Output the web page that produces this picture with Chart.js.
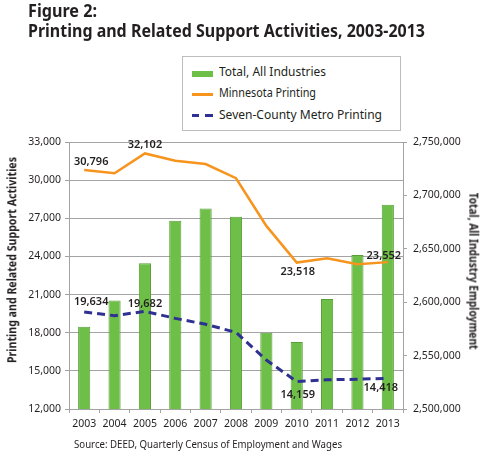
<!DOCTYPE html>
<html>
<head>
<meta charset="utf-8">
<script src="https://cdn.jsdelivr.net/npm/chart.js@4"></script>
<style>
html,body{margin:0;padding:0;background:#fff;}
#wrap{position:relative;width:481px;height:452px;overflow:hidden;font-family:"Noto Sans",sans-serif;color:#231f20;}
#cv{position:absolute;left:0;top:0;}
.t{position:absolute;white-space:nowrap;line-height:1;transform-origin:0 0;}
.r{position:absolute;white-space:nowrap;line-height:1;font-weight:700;}
#legend{position:absolute;left:182px;top:56px;width:217px;height:73px;border:1px solid #bdbdbd;background:#fff;}
.sw{position:absolute;}
</style>
</head>
<body>
<div id="wrap">
  <canvas id="cv" width="481" height="452"></canvas>
  <div class="t" id="title1" style="left:28px;font-weight:700;font-size:17px;">Figure 2:</div>
  <div class="t" id="title2" style="left:28px;font-weight:700;font-size:17px;">Printing and Related Support Activities, 2003-2013</div>
  <div id="legend"></div>
  <div class="sw" style="left:192px;top:71px;width:21px;height:6px;background:#6dbf47;"></div>
  <div class="sw" style="left:192px;top:93px;width:21px;height:2.5px;background:#f7941e;"></div>
  <div class="sw" style="left:192px;top:114px;width:7px;height:3px;background:#2e3192;"></div>
  <div class="sw" style="left:205px;top:114px;width:8px;height:3px;background:#2e3192;"></div>
  <div class="t" id="lg1" style="left:219px;font-size:12.5px;">Total, All Industries</div>
  <div class="t" id="lg2" style="left:219px;font-size:12.5px;">Minnesota Printing</div>
  <div class="t" id="lg3" style="left:219px;font-size:12.5px;">Seven-County Metro Printing</div>
  <div class="r" id="ytitle" style="font-size:12px;">Printing and Related Support Activities</div>
  <div class="r" id="y1title" style="font-size:12px;">Total, All Industry Employment</div>
  <div class="t" id="source" style="left:74px;font-size:11.2px;">Source: DEED, Quarterly Census of Employment and Wages</div>
</div>
<script>
// ---- data ----
const years = ['2003','2004','2005','2006','2007','2008','2009','2010','2011','2012','2013'];
const totalAllIndustries = [2577000, 2601700, 2636500, 2676300, 2687800, 2680000, 2571500, 2562800, 2602900, 2644300, 2691200];
const minnesotaPrinting = [30796, 30540, 32102, 31530, 31270, 30150, 26400, 23518, 23850, 23380, 23552];
const metroPrinting = [19634, 19340, 19682, 19130, 18660, 18030, 15850, 14159, 14300, 14340, 14418];
const labeledPoints = [0, 2, 7, 10];
const leftAxisRange = [12000, 33000, 3000];
const rightAxisRange = [2500000, 2750000, 50000];

// ---- label placement (style, not data) ----
const labelOffsets = {
  1: {0:[7,-8], 2:[0,-9], 7:[1,9], 10:[-4,-6]},
  2: {0:[7,-10], 2:[0,-7], 7:[1,13], 10:[-7,10]}
};

const FONT = 'Noto Sans';
const TXT = '#231f20';
const GRID = '#a3a3a3';
Chart.defaults.font.family = FONT;

const dataLabels = {
  id: 'dataLabels',
  afterDatasetsDraw(chart) {
    const ctx = chart.ctx;
    ctx.save();
    ctx.font = '600 11px "' + FONT + '"';
    ctx.fillStyle = TXT;
    ctx.textAlign = 'center';
    ctx.textBaseline = 'middle';
    [1, 2].forEach(di => {
      const meta = chart.getDatasetMeta(di);
      const ds = chart.data.datasets[di];
      labeledPoints.forEach(i => {
        const p = meta.data[i];
        const off = labelOffsets[di][i];
        ctx.fillText(ds.data[i].toLocaleString('en-US'), p.x + off[0], p.y + off[1]);
      });
    });
    ctx.restore();
  }
};

new Chart(document.getElementById('cv'), {
  type: 'bar',
  data: {
    labels: years,
    datasets: [
      {
        type: 'bar', label: 'Total, All Industries', data: totalAllIndustries, yAxisID: 'y1',
        backgroundColor: '#6dbf47', borderColor: '#5a9e3a', borderWidth: 1,
        barPercentage: 0.4, categoryPercentage: 1.0, order: 3
      },
      {
        type: 'line', label: 'Minnesota Printing', data: minnesotaPrinting, yAxisID: 'y',
        borderColor: '#f7941e', borderWidth: 2.5, pointRadius: 0, tension: 0, fill: false, order: 1
      },
      {
        type: 'line', label: 'Seven-County Metro Printing', data: metroPrinting, yAxisID: 'y',
        borderColor: '#2e3192', borderWidth: 3, borderDash: [8, 5], pointRadius: 0, tension: 0, fill: false, order: 0
      }
    ]
  },
  options: {
    responsive: false,
    animation: false,
    events: [],
    layout: { padding: { top: 142, left: 0, right: 0, bottom: 0 } },
    plugins: { legend: { display: false }, tooltip: { enabled: false }, title: { display: false } },
    scales: {
      x: {
        offset: true,
        grid: { display: true, drawOnChartArea: false, offset: true, tickLength: 4, color: GRID },
        border: { color: GRID },
        ticks: { font: { size: 10.5 }, color: TXT, padding: 5, maxRotation: 0, autoSkip: false },
        afterFit: s => { s.height = 43; }
      },
      y: {
        position: 'left',
        min: leftAxisRange[0], max: leftAxisRange[1],
        ticks: { stepSize: leftAxisRange[2], font: { size: 10.5 }, color: TXT, padding: 4,
                 callback: v => v.toLocaleString('en-US') },
        grid: { color: GRID, tickLength: 4 },
        border: { color: GRID },
        afterFit: s => { s.width = 69; }
      },
      y1: {
        position: 'right',
        min: rightAxisRange[0], max: rightAxisRange[1],
        ticks: { stepSize: rightAxisRange[2], font: { size: 10.5 }, color: TXT, padding: 6,
                 callback: v => v.toLocaleString('en-US') },
        grid: { drawOnChartArea: false, color: GRID, tickLength: 4 },
        border: { color: GRID },
        afterFit: s => { s.width = 78; }
      }
    }
  },
  plugins: [dataLabels]
});

// ---- text layout: fit widths & baselines ----
function place(id, baseline, targetW) {
  const el = document.getElementById(id);
  const fs = parseFloat(el.style.fontSize);
  el.style.top = (baseline - fs * 0.888) + 'px';
  const w = el.getBoundingClientRect().width;
  el.style.transform = 'scaleX(' + (targetW / w) + ')';
}
function placeRot(id, cx, cy, deg, targetW) {
  const el = document.getElementById(id);
  const w = el.getBoundingClientRect().width;
  const h = el.getBoundingClientRect().height;
  el.style.left = (cx - w / 2) + 'px';
  el.style.top = (cy - h / 2) + 'px';
  el.style.transformOrigin = '50% 50%';
  el.style.transform = 'rotate(' + deg + 'deg) scaleX(' + (targetW / w) + ')';
}
function layoutText() {
  place('title1', 16.7, 69);
  place('title2', 36.7, 397);
  place('lg1', 77.3, 107);
  place('lg2', 98.3, 97);
  place('lg3', 119.7, 163);
  place('source', 448, 268);
  placeRot('ytitle', 12, 260, -90, 206);
  placeRot('y1title', 473, 271, 90, 157);
}
layoutText();
</script>
</body>
</html>
